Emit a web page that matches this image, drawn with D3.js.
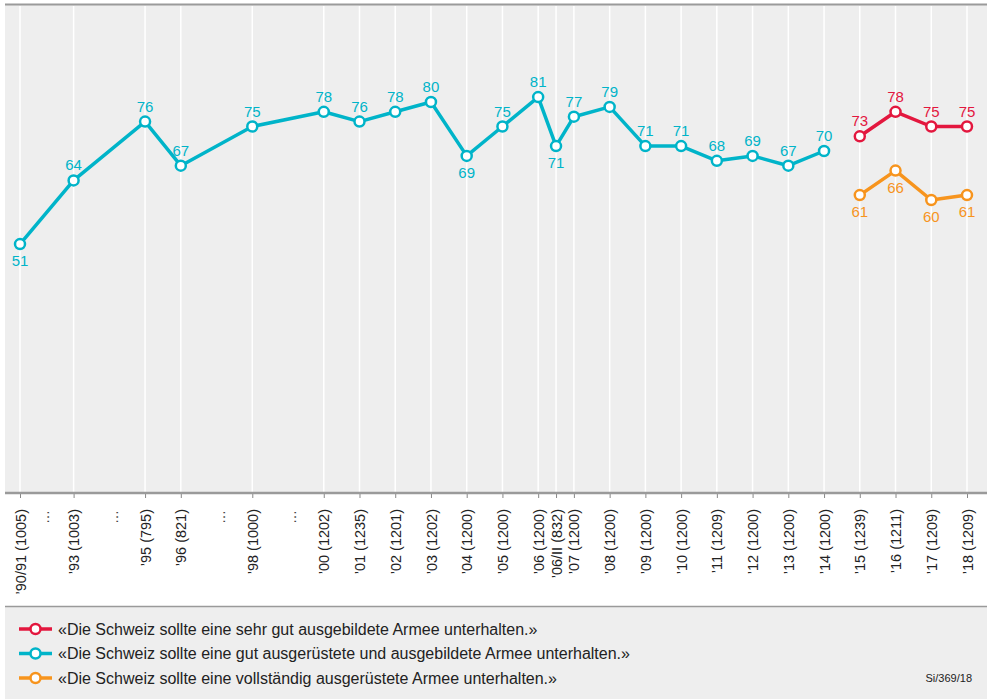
<!DOCTYPE html>
<html>
<head>
<meta charset="utf-8">
<script src="https://cdnjs.cloudflare.com/ajax/libs/d3/7.8.5/d3.min.js"></script>
<style>
  body { margin: 0; background: #fff; }
  text { font-family: "Liberation Sans", Arial, Helvetica, sans-serif; }
</style>
</head>
<body>
<div id="chart"></div>
<script>
// survey waves (year position) and their axis labels
let waves = [1991.5, 1993, 1995, 1996, 1998, 2000, 2001, 2002, 2003, 2004, 2005, 2006, 2006.5, 2007,
    2008, 2009, 2010, 2011, 2012, 2013, 2014, 2015, 2016, 2017, 2018];
let waveLabels = ["’90/91 (1005)", "’93 (1003)", "’95 (795)", "’96 (821)", "’98 (1000)", "’00 (1202)",
    "’01 (1235)", "’02 (1201)", "’03 (1202)", "’04 (1200)", "’05 (1200)", "’06 (1200)", "’06/II (832)",
    "’07 (1200)", "’08 (1200)", "’09 (1200)", "’10 (1200)", "’11 (1209)", "’12 (1200)", "’13 (1200)",
    "’14 (1200)", "’15 (1239)", "’16 (1211)", "’17 (1209)", "’18 (1209)"];
// gaps in the series, shown as dots on the axis
let gaps = [1992.17, 1994.1, 1997.1, 1999.1];

// «gut ausgerüstete und ausgebildete Armee» 1991-2014
let gutYears = [1991.5, 1993, 1995, 1996, 1998, 2000, 2001, 2002, 2003, 2004, 2005, 2006, 2006.5, 2007,
    2008, 2009, 2010, 2011, 2012, 2013, 2014];
let gutValues = [51, 64, 76, 67, 75, 78, 76, 78, 80, 69, 75, 81, 71, 77, 79, 71, 71, 68, 69, 67, 70];
let gutBelow = [1991.5, 2004, 2006.5];

// «sehr gut ausgebildete» and «vollständig ausgerüstete» 2015-2018
let newYears = [2015, 2016, 2017, 2018];
let sehrGutValues = [73, 78, 75, 75];
let vollValues = [61, 66, 60, 61];

let legendLabels = [
    "«Die Schweiz sollte eine sehr gut ausgebildete Armee unterhalten.»",
    "«Die Schweiz sollte eine gut ausgerüstete und ausgebildete Armee unterhalten.»",
    "«Die Schweiz sollte eine vollständig ausgerüstete Armee unterhalten.»"
];

let red = "#e3173e", teal = "#00b4c9", orange = "#f7941d";

let width = 987, height = 699;
let plot = { left: 5, right: 987, top: 4, bottom: 493 };

let svg = d3.select("#chart").append("svg")
    .attr("width", width)
    .attr("height", height);

let x = d3.scaleLinear()
    .domain([1991.5, 2018])
    .range([20, 967]);
let y = d3.scaleLinear()
    .domain([0, 100])
    .range([plot.bottom + 1, plot.top]);

// plot background
svg.append("rect")
    .attr("x", plot.left)
    .attr("y", plot.top)
    .attr("width", plot.right - plot.left)
    .attr("height", plot.bottom - plot.top)
    .attr("fill", "#eeeeee");
svg.append("line")
    .attr("x1", plot.left).attr("x2", plot.right)
    .attr("y1", plot.top + 0.5).attr("y2", plot.top + 0.5)
    .attr("stroke", "#9a9a9a").attr("stroke-width", 2);

// vertical grid lines at each wave
svg.selectAll(".grid")
    .data(waves)
    .enter()
    .append("line")
    .attr("class", "grid")
    .attr("x1", d => x(d)).attr("x2", d => x(d))
    .attr("y1", plot.top + 2).attr("y2", plot.bottom)
    .attr("stroke", "#ffffff")
    .attr("stroke-width", 1.5);

// x axis
let xAxis = svg.append("g")
    .attr("transform", "translate(0," + plot.bottom + ")")
    .call(d3.axisBottom(x)
        .tickValues(waves)
        .tickSize(5)
        .tickSizeOuter(0)
        .tickFormat((d, i) => waveLabels[i]));
xAxis.select(".domain").remove();
xAxis.selectAll(".tick line").attr("stroke", "#888");
xAxis.selectAll(".tick text")
    .attr("transform", "rotate(-90)")
    .attr("x", -16)
    .attr("y", 0)
    .attr("dy", "0.35em")
    .style("text-anchor", "end")
    .style("font-size", "14.5px")
    .attr("fill", "#222");
svg.append("line")
    .attr("x1", plot.left).attr("x2", plot.right)
    .attr("y1", plot.bottom).attr("y2", plot.bottom)
    .attr("stroke", "#9a9a9a").attr("stroke-width", 2.5);

// dots marking gaps between waves
svg.selectAll(".gap")
    .data(gaps)
    .enter()
    .append("text")
    .attr("class", "gap")
    .attr("transform", d => "translate(" + x(d) + ",510) rotate(-90)")
    .attr("dy", "0.35em")
    .style("text-anchor", "end")
    .style("font-size", "14px")
    .attr("fill", "#444")
    .text("…");

// draw one series: line, circles and value labels
function drawSeries(years, values, color, below) {
    let pts = years.map((d, i) => ({ year: d, value: values[i] }));
    let line = d3.line()
        .x(d => x(d.year))
        .y(d => y(d.value));
    svg.append("path")
        .datum(pts)
        .attr("d", line)
        .attr("fill", "none")
        .attr("stroke", color)
        .attr("stroke-width", 3.5)
        .attr("stroke-linejoin", "round");
    svg.selectAll(null)
        .data(pts)
        .enter()
        .append("circle")
        .attr("cx", d => x(d.year))
        .attr("cy", d => y(d.value))
        .attr("r", 5)
        .attr("fill", "#fff")
        .attr("stroke", color)
        .attr("stroke-width", 2.5);
    svg.selectAll(null)
        .data(pts)
        .enter()
        .append("text")
        .attr("x", d => x(d.year))
        .attr("y", d => below(d.year) ? y(d.value) + 22 : y(d.value) - 10)
        .style("text-anchor", "middle")
        .style("font-size", "15px")
        .attr("fill", color)
        .text(d => d.value);
}

drawSeries(gutYears, gutValues, teal, d => gutBelow.includes(d));
drawSeries(newYears, sehrGutValues, red, d => false);
drawSeries(newYears, vollValues, orange, d => true);

// legend box
let legendTop = 606;
svg.append("rect")
    .attr("x", plot.left)
    .attr("y", legendTop)
    .attr("width", plot.right - plot.left)
    .attr("height", height - legendTop)
    .attr("fill", "#eeeeee");
svg.append("line")
    .attr("x1", plot.left).attr("x2", plot.right)
    .attr("y1", legendTop + 0.5).attr("y2", legendTop + 0.5)
    .attr("stroke", "#9a9a9a").attr("stroke-width", 1.5);

let legend = svg.selectAll(".legend")
    .data(legendLabels)
    .enter()
    .append("g")
    .attr("class", "legend")
    .attr("transform", (d, i) => "translate(0," + (629 + i * 24.5) + ")");
let legendColors = [red, teal, orange];
legend.append("line")
    .attr("x1", 19).attr("x2", 52)
    .attr("stroke", (d, i) => legendColors[i])
    .attr("stroke-width", 3.5);
legend.append("circle")
    .attr("cx", 35.5)
    .attr("r", 5)
    .attr("fill", "#fff")
    .attr("stroke", (d, i) => legendColors[i])
    .attr("stroke-width", 2.5);
legend.append("text")
    .attr("x", 58)
    .attr("dy", "0.35em")
    .style("font-size", "16px")
    .attr("fill", "#222")
    .text(d => d);

svg.append("text")
    .attr("x", 972)
    .attr("y", 678)
    .attr("dy", "0.35em")
    .style("text-anchor", "end")
    .style("font-size", "11px")
    .attr("fill", "#222")
    .text("Si/369/18");
</script>
</body>
</html>
